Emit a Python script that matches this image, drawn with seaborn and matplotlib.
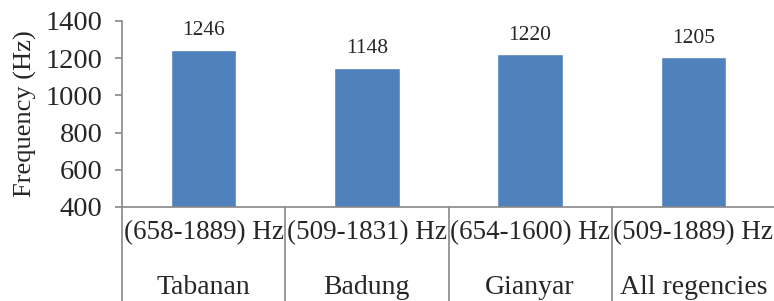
import matplotlib
matplotlib.use("Agg")
import matplotlib.pyplot as plt
import matplotlib.transforms as mtransforms
import seaborn as sns
import pandas as pd

regions = ["Tabanan", "Badung", "Gianyar", "All regencies"]
ranges = ["(658-1889) Hz", "(509-1831) Hz", "(654-1600) Hz", "(509-1889) Hz"]
values = [1246, 1148, 1220, 1205]

sns.set_style("white")
plt.rcParams['font.family'] = ['Liberation Serif', 'DejaVu Serif']

df = pd.DataFrame({"region": regions, "freq": values})

fig = plt.figure(figsize=(7.74, 3.01), dpi=100)
ax = fig.add_axes([122/774, 1 - 207/301, (775 - 122)/774, (207 - 21)/301])

sns.barplot(data=df, x="region", y="freq", color="#4F81BD", width=0.4,
            saturation=1, ax=ax)

ax.set_ylim(400, 1400)
ax.set_xlim(-0.5, len(regions) - 0.5)
ax.set_yticks(range(400, 1401, 200))
ax.tick_params(axis="y", labelsize=20.5, length=5, width=1.2, color="#888888",
               direction="out", pad=9, left=True)
ax.set_xticks([])
ax.set_xlabel("")
ax.set_ylabel("Frequency (Hz)", fontsize=19, labelpad=6)

for s in ["top", "right"]:
    ax.spines[s].set_visible(False)
for s in ["left", "bottom"]:
    ax.spines[s].set_color("#888888")
    ax.spines[s].set_linewidth(1.2)

# value labels
for i, v in enumerate(values):
    ax.annotate(str(v), (i, v), xytext=(0, 7), textcoords="offset points",
                ha="center", va="bottom", fontsize=15.5)

# two-level category labels with separators
trans = mtransforms.blended_transform_factory(ax.transData, ax.transAxes)
for i, (r, g) in enumerate(zip(ranges, regions)):
    ax.text(i, -0.14, r, transform=trans, ha="center", va="center", fontsize=19.5)
    ax.text(i, -0.435, g, transform=trans, ha="center", va="center", fontsize=20)
for b in [x - 0.5 for x in range(len(regions) + 1)]:
    ax.plot([b, b], [0, -0.6], transform=trans, color="#888888", lw=1.2, clip_on=False)

fig.savefig("out.png", dpi=100)
